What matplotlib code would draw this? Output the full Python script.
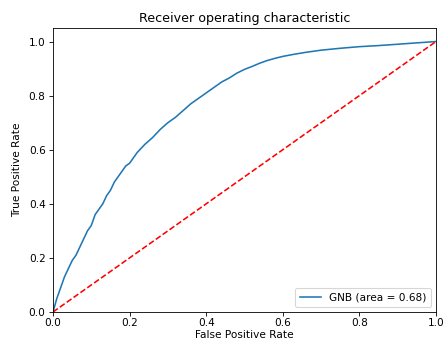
import matplotlib
matplotlib.use('Agg')
import matplotlib.pyplot as plt

# ROC curve values
fpr = [0.0, 0.01, 0.02, 0.03, 0.04, 0.05, 0.06, 0.07, 0.08, 0.09, 0.10,
       0.11, 0.12, 0.13, 0.14, 0.15, 0.16, 0.17, 0.18, 0.19, 0.20,
       0.22, 0.24, 0.26, 0.27, 0.28, 0.30, 0.32, 0.34, 0.36, 0.38,
       0.40, 0.42, 0.44, 0.46, 0.48, 0.50, 0.52, 0.54, 0.56, 0.58,
       0.60, 0.63, 0.66, 0.70, 0.75, 0.80, 0.85, 0.90, 0.95, 1.0]
tpr = [0.0, 0.05, 0.09, 0.13, 0.16, 0.19, 0.21, 0.24, 0.27, 0.30, 0.32,
       0.36, 0.38, 0.40, 0.43, 0.45, 0.48, 0.50, 0.52, 0.54, 0.55,
       0.59, 0.62, 0.645, 0.66, 0.675, 0.70, 0.72, 0.745, 0.77, 0.79,
       0.81, 0.83, 0.85, 0.865, 0.883, 0.897, 0.908, 0.92, 0.93, 0.938,
       0.945, 0.953, 0.96, 0.968, 0.975, 0.981, 0.985, 0.99, 0.995, 1.0]
roc_auc = 0.68
diag = [0, 1]

dpi = 76
fig = plt.figure(figsize=(444 / dpi, 344 / dpi), dpi=dpi)
ax = fig.add_axes([53 / 444, 32 / 344, 383 / 444, 284 / 344])

ax.plot(fpr, tpr, label='GNB (area = %0.2f)' % roc_auc)
ax.plot(diag, diag, 'r--')
ax.set_xlim([0.0, 1.0])
ax.set_ylim([0.0, 1.05])
ax.tick_params(axis='x', pad=2)
ax.set_xlabel('False Positive Rate', labelpad=2)
ax.set_ylabel('True Positive Rate', labelpad=6)
ax.set_title('Receiver operating characteristic', pad=6)
ax.legend(loc="lower right")

fig.savefig('out.png', dpi=dpi)
